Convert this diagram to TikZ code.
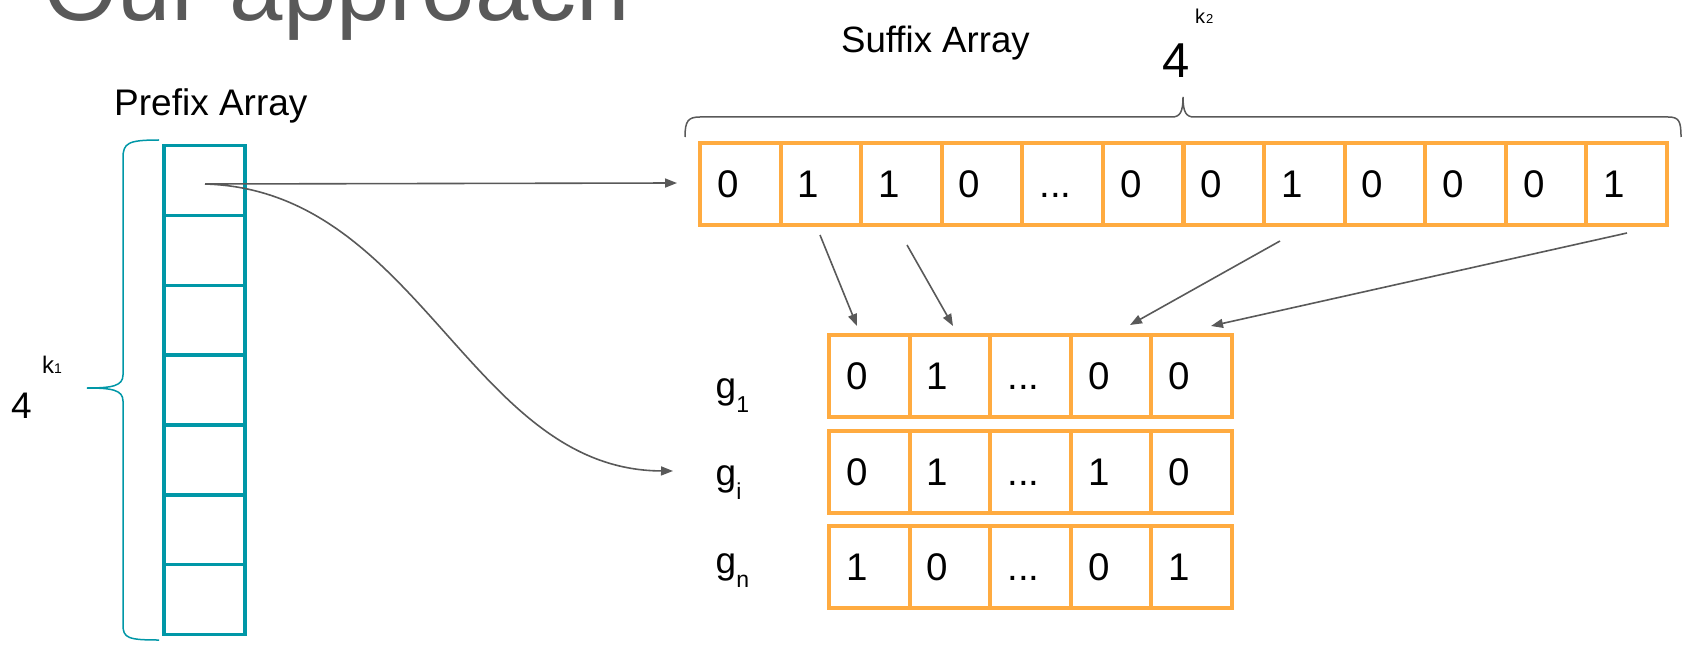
\documentclass[tikz,border=0pt]{standalone}
\usepackage{fontspec}
\setmainfont{Liberation Sans}
\usetikzlibrary{arrows.meta}
\definecolor{slategray}{HTML}{595959}
\definecolor{accentorange}{HTML}{FFAB40}
\definecolor{accentteal}{HTML}{0097A7}
\newcommand\fsz[1]{\fontsize{#1bp}{#1bp}\selectfont}
\newcommand\skipdots{...}

\begin{document}
\begin{tikzpicture}[x=1bp,y=-1bp,
  txt/.style={inner sep=0pt, anchor=base west},
  pcell/.style={draw=accentteal, line width=3.5bp, minimum width=81bp,
    minimum height=69.8bp, inner sep=0pt, anchor=north west},
  ocell/.style={draw=accentorange, line width=4bp, minimum width=80.6bp,
    minimum height=82bp, inner sep=0pt, anchor=north west},
  bit/.style={inner sep=0pt, anchor=base west, font=\fsz{38.5}},
  link/.style={draw=slategray, line width=1.6bp,
    -{Triangle[length=12bp,width=9bp]}},
  bracket/.style={line width=1.5bp}
]
\useasboundingbox (0,0) rectangle (1688,647);
\clip (0,0) rectangle (1688,647);

% headings
\node[txt, font=\fsz{96}, text=slategray] (title) at (43,21) {Our approach};
\node[txt, font=\fsz{37}] (plabel) at (114,116) {Prefix Array};
\node[txt, font=\fsz{36.6}] (slabel) at (841,53) {Suffix Array};

% prefix array
\foreach \i in {1,...,7}
  \node[pcell] (p\i) at (162,{144+(\i-1)*69.8}) {};

% brace and size of the prefix array
\draw[bracket, accentteal]
  (159,140) .. controls (128,140) and (123,143) .. (123,158)
  -- (123,375) .. controls (123,386) and (112,388) .. (87,388)
  .. controls (112,388) and (123,390) .. (123,401)
  -- (123,625) .. controls (123,638) and (128,640) .. (159,640);
\node[txt, font=\fsz{37}] (pfour) at (11,418) {4};
\node[txt, font=\fsz{24}] (pexp) at (42,373) {k\fsz{14}1};

% suffix array
\foreach \i in {1,...,12}
  \node[ocell] (s\i) at ({698+(\i-1)*80.58},141) {};
\foreach \i/\v in {1/0,2/1,3/1,4/0,5/\skipdots,6/0,7/0,8/1,9/0,10/0,11/0,12/1}
  \node[bit] (sb\i) at ([xshift=19bp,yshift=-13.8bp]s\i.west) {\v};

% brace and size of the suffix array
\draw[bracket, slategray]
  (685,137) .. controls (685,121) and (688,117) .. (700,117)
  -- (1172,117) .. controls (1180,117) and (1183,112) .. (1183,97)
  .. controls (1183,112) and (1186,117) .. (1194,117)
  -- (1668,117) .. controls (1679,117) and (1681,121) .. (1681,137);
\node[txt, font=\fsz{49}] (sfour) at (1162,78) {4};
\node[txt, font=\fsz{20}] (sexp) at (1195,24) {k\kern1bp\fsz{13}2};

% gene rows
\foreach \r/\top in {1/333, i/429, n/524}
  \foreach \j in {1,...,5}
    \node[ocell] (g\r-\j) at ({827+(\j-1)*80.6},\top) {};
\foreach \r/\a/\b/\c/\d in {1/0/1/0/0, i/0/1/1/0, n/1/0/0/1} {
  \node[bit] (gb\r-1) at ([xshift=19bp,yshift=-13.8bp]g\r-1.west) {\a};
  \node[bit] (gb\r-2) at ([xshift=19bp,yshift=-13.8bp]g\r-2.west) {\b};
  \node[bit] (gb\r-3) at ([xshift=19bp,yshift=-13.8bp]g\r-3.west) {\skipdots};
  \node[bit] (gb\r-4) at ([xshift=19bp,yshift=-13.8bp]g\r-4.west) {\c};
  \node[bit] (gb\r-5) at ([xshift=19bp,yshift=-13.8bp]g\r-5.west) {\d};
}
\node[txt, font=\fsz{37}] (lab1) at (715.5,398) {g\raisebox{-14bp}{\fsz{23}1}};
\node[txt, font=\fsz{37}] (labi) at (715.5,485) {g\raisebox{-14bp}{\fsz{23}i}};
\node[txt, font=\fsz{37}] (labn) at (715.5,573) {g\raisebox{-14bp}{\fsz{23}n}};

% connectors
\coordinate (pstart) at (205,184);
\coordinate (sufin) at (677,183);
\coordinate (gin) at (673,471);
\draw[link] (pstart) -- (sufin);
\draw[link] (pstart) .. controls (420,190) and (470,470) .. (gin);

\coordinate (a1s) at (820,235);  \coordinate (a1e) at (857,326);
\coordinate (a2s) at (907,245);  \coordinate (a2e) at (953,326);
\coordinate (a3s) at (1280,241); \coordinate (a3e) at (1130,325);
\coordinate (a4s) at (1627,233); \coordinate (a4e) at (1211,326);
\foreach \k in {1,2,3,4}
  \draw[link] (a\k s) -- (a\k e);
\end{tikzpicture}
\end{document}
